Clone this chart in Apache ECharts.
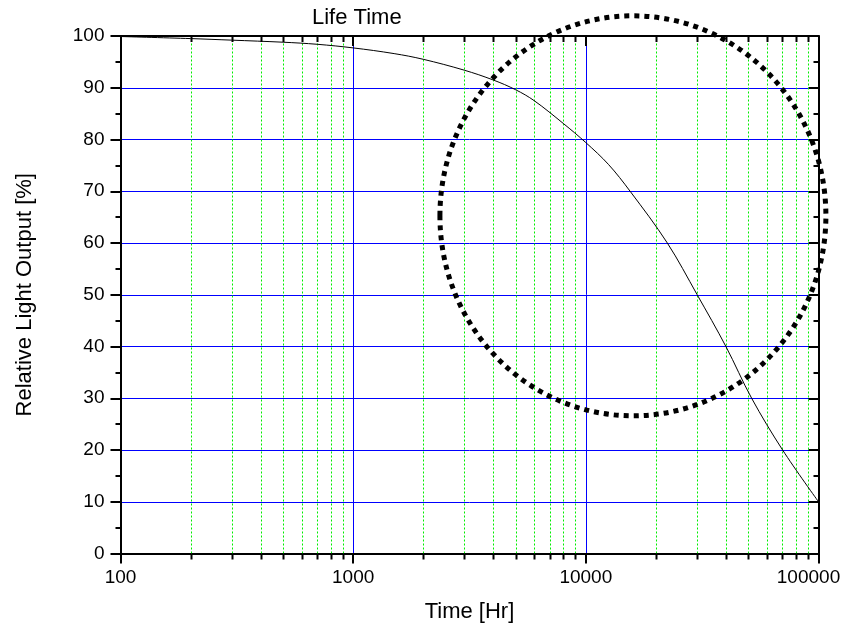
<!DOCTYPE html>
<html>
<head>
<meta charset="utf-8">
<title>Life Time</title>
<script src="https://cdn.jsdelivr.net/npm/echarts@6/dist/echarts.min.js"></script>
<style>
  html, body { margin: 0; padding: 0; background: #fff; }
  #chart { width: 856px; height: 633px; }
</style>
</head>
<body>
<div id="chart"></div>
<script>
// Lamp lumen maintenance: relative light output over operating time
const timeHr = [100, 200, 300, 500, 700, 1000, 1500, 2000, 3000, 4000, 5000, 6000, 8000, 10000, 12500, 15500, 22400, 30100, 40000, 51600, 70100, 100000];
const lightOutput = [99.9, 99.5, 99.2, 98.8, 98.4, 97.7, 96.6, 95.5, 93.4, 91.5, 89.6, 87.5, 83.1, 79.4, 75.2, 70, 60, 50, 40, 30, 20, 10];

// Intermediate decade values for the dotted minor grid
const minorTimes = [200, 300, 400, 500, 600, 700, 800, 900,
                    2000, 3000, 4000, 5000, 6000, 7000, 8000, 9000,
                    20000, 30000, 40000, 50000, 60000, 70000, 80000, 90000];

// Extent of the highlighted region (dotted ring), in data units
const ringTime = [2360, 107600];
const ringOutput = [26.6, 103.9];

const FONT = "'Liberation Sans', Arial, sans-serif";
const chart = echarts.init(document.getElementById('chart'), null, { renderer: 'canvas' });

const axisLineStyle = { color: '#000', width: 2 };
const crisp = v => Math.round(v) + 0.5;

const option = {
  animation: false,
  backgroundColor: '#fff',
  title: {
    text: 'Life Time',
    left: 307,
    top: 2,
    textStyle: { fontFamily: FONT, fontSize: 22, fontWeight: 'normal', color: '#000' }
  },
  grid: { left: 120.5, right: 37.5, top: 36, bottom: 79.5, containLabel: false },
  xAxis: [
    {
      type: 'log', logBase: 10, min: 100, max: 100000, position: 'bottom',
      name: 'Time [Hr]', nameLocation: 'middle', nameGap: 47,
      nameTextStyle: { fontFamily: FONT, fontSize: 22, color: '#000' },
      axisLine: { show: true, onZero: false, lineStyle: axisLineStyle },
      axisTick: { show: true, length: 10, lineStyle: axisLineStyle },
      axisLabel: {
        fontFamily: FONT, fontSize: 19, color: '#000', margin: 15,
        formatter: v => {
          const s = String(Math.round(v));
          return Math.round(v) === 100000 ? '{last|' + s + '}' : s;
        },
        rich: { last: { fontFamily: FONT, fontSize: 19, color: '#000', padding: [0, 20, 0, 0] } }
      },
      splitLine: { show: true, lineStyle: { color: '#0000ff', width: 1 } }
    },
    {
      type: 'log', logBase: 10, min: 100, max: 100000, position: 'top',
      axisLine: { show: true, onZero: false, lineStyle: axisLineStyle },
      axisTick: { show: true, inside: true, length: 10, lineStyle: axisLineStyle },
      axisLabel: { show: false },
      splitLine: { show: false }
    }
  ],
  yAxis: [
    {
      type: 'value', min: 0, max: 100, interval: 10, position: 'left',
      name: 'Relative Light Output [%]', nameLocation: 'middle', nameGap: 85,
      nameTextStyle: { fontFamily: FONT, fontSize: 22, color: '#000' },
      axisLine: { show: true, onZero: false, lineStyle: axisLineStyle },
      axisTick: { show: true, length: 10, lineStyle: axisLineStyle },
      minorTick: { show: true, splitNumber: 2, length: 5, lineStyle: axisLineStyle },
      axisLabel: { fontFamily: FONT, fontSize: 19, color: '#000', margin: 16 },
      splitLine: { show: true, lineStyle: { color: '#0000ff', width: 1 } }
    },
    {
      type: 'value', min: 0, max: 100, interval: 10, position: 'right',
      axisLine: { show: true, onZero: false, lineStyle: axisLineStyle },
      axisTick: { show: true, inside: true, length: 10, lineStyle: axisLineStyle },
      minorTick: { show: true, splitNumber: 2, length: 5, lineStyle: axisLineStyle },
      axisLabel: { show: false },
      splitLine: { show: false }
    }
  ],
  series: [
    {
      // minor grid lines with short ticks on the bottom and top frame
      type: 'custom',
      xAxisIndex: 0, yAxisIndex: 0,
      silent: true, clip: false, z: 1,
      data: minorTimes.map(t => [t, 0]),
      renderItem: function (params, api) {
        const x = api.value(0);
        const b = api.coord([x, 0]);
        const t = api.coord([x, 100]);
        const px = crisp(b[0]);
        return {
          type: 'group',
          children: [
            { type: 'line', shape: { x1: px, y1: b[1], x2: px, y2: t[1] },
              style: { stroke: '#00ee00', lineWidth: 1, lineDash: [2, 2] } },
            { type: 'line', shape: { x1: px, y1: b[1], x2: px, y2: b[1] + 6 },
              style: { stroke: '#000', lineWidth: 2 } },
            { type: 'line', shape: { x1: px, y1: t[1], x2: px, y2: t[1] + 6 },
              style: { stroke: '#000', lineWidth: 2 } }
          ]
        };
      }
    },
    {
      name: 'Relative Light Output',
      type: 'line',
      xAxisIndex: 0, yAxisIndex: 0,
      data: timeHr.map((t, i) => [t, lightOutput[i]]),
      smooth: 0.35,
      symbol: 'none',
      lineStyle: { color: '#000', width: 1 },
      z: 3
    },
    {
      // dotted ring around the region of interest
      type: 'custom',
      xAxisIndex: 0, yAxisIndex: 0,
      silent: true, clip: false, z: 10,
      data: [[ringTime[0], ringOutput[0], ringTime[1], ringOutput[1]]],
      renderItem: function (params, api) {
        const p1 = api.coord([api.value(0), api.value(1)]);
        const p2 = api.coord([api.value(2), api.value(3)]);
        return {
          type: 'ellipse',
          shape: {
            cx: (p1[0] + p2[0]) / 2,
            cy: (p1[1] + p2[1]) / 2,
            rx: Math.abs(p2[0] - p1[0]) / 2,
            ry: Math.abs(p1[1] - p2[1]) / 2
          },
          style: { fill: null, stroke: '#000', lineWidth: 5, lineDash: [5, 5] }
        };
      }
    }
  ]
};

chart.setOption(option);
</script>
</body>
</html>
